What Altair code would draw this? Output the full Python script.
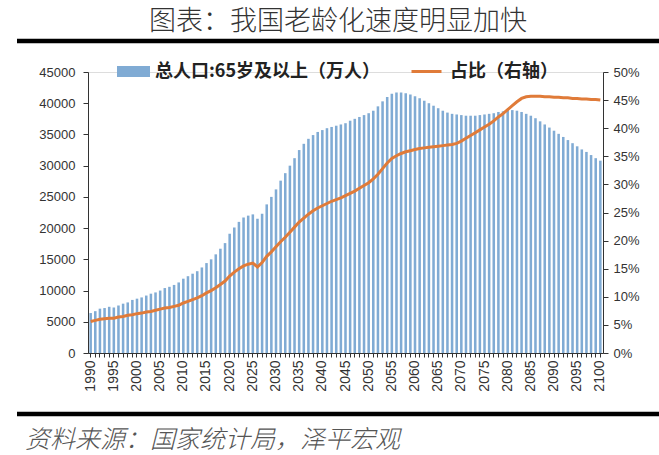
import altair as alt
import pandas as pd

years = list(range(1990, 2101))

pop_65 = [
    6400, 6700, 7100, 7200, 7400, 7300, 7600, 7900, 8100, 8500,
    8700, 8900, 9200, 9500, 9700, 10000, 10400, 10600, 10900, 11300,
    11900, 12300, 12700, 13100, 13700, 14400, 15000, 15800, 16700, 17600,
    19100, 20100, 21000, 21700, 22000, 22200, 21500, 22300, 23800, 25000,
    26200, 27600, 28800, 30000, 31200, 32500, 33500, 34300, 34900, 35400,
    35700, 36000, 36200, 36400, 36600, 36800, 37200, 37500, 37800, 38100,
    38400, 38800, 39500, 40300, 41000, 41500, 41700, 41700, 41600, 41400,
    41100, 40800, 40400, 40000, 39600, 39200, 38800, 38500, 38300, 38200,
    38100, 38000, 38000, 38000, 38100, 38200, 38300, 38400, 38600, 38700,
    38900, 38900, 38800, 38600, 38300, 38000, 37600, 37100, 36600, 36100,
    35600, 35100, 34600, 34100, 33600, 33100, 32600, 32200, 31700, 31200,
    30800,
]

share_pct = [
    5.6, 5.8, 6.0, 6.1, 6.2, 6.2, 6.4, 6.5, 6.7, 6.8,
    7.0, 7.1, 7.3, 7.4, 7.6, 7.8, 8.0, 8.1, 8.3, 8.5,
    8.9, 9.2, 9.5, 9.8, 10.2, 10.7, 11.1, 11.6, 12.2, 12.8,
    13.7, 14.4, 15.0, 15.5, 15.8, 16.0, 15.3, 16.1, 17.2, 18.0,
    18.9, 19.8, 20.6, 21.5, 22.4, 23.3, 24.0, 24.7, 25.3, 25.8,
    26.2, 26.6, 27.0, 27.3, 27.6, 28.0, 28.4, 28.8, 29.3, 29.8,
    30.3, 31.0, 31.8, 32.8, 33.8, 34.6, 35.1, 35.5, 35.8, 36.0,
    36.2, 36.4, 36.5, 36.6, 36.7, 36.8, 36.9, 37.0, 37.1, 37.3,
    37.7, 38.2, 38.7, 39.2, 39.7, 40.2, 40.7, 41.3, 42.0, 42.6,
    43.3, 44.0, 44.7, 45.3, 45.6, 45.7, 45.7, 45.7, 45.6, 45.6,
    45.5, 45.5, 45.4, 45.4, 45.3, 45.3, 45.2, 45.2, 45.1, 45.1,
    45.0,
]

bar_label = "总人口:65岁及以上（万人）"
line_label = "占比（右轴）"
title_text = "图表：我国老龄化速度明显加快"
source_text = "资料来源：国家统计局，泽平宏观"

df = pd.DataFrame({
    "year": years,
    "pop": pop_65,
    "share": [v / 100 for v in share_pct],
    "b": bar_label,
    "s": line_label,
})

W, H = 515, 281
PL, PT = 88, 72

xenc = alt.X(
    "year:O",
    scale=alt.Scale(paddingInner=0.45, paddingOuter=0.3),
    axis=alt.Axis(
        title=None,
        labelExpr="datum.value % 5 == 0 ? datum.label : ''",
        labelOverlap=False,
        labelAngle=-90,
        labelFont="Liberation Sans",
        labelFontSize=14,
        labelColor="#333333",
        labelPadding=3,
        tickSize=4,
        tickColor="#333333",
        domainColor="#333333",
    ),
)

bars = alt.Chart(df).mark_bar(opacity=1).encode(
    x=xenc,
    y=alt.Y(
        "pop:Q",
        scale=alt.Scale(domain=[0, 45000], nice=False),
        axis=alt.Axis(
            title=None,
            values=list(range(0, 45001, 5000)),
            format="d",
            labelFont="Liberation Sans",
            labelFontSize=13,
            labelColor="#333333",
            labelPadding=8,
            tickSize=5,
            tickColor="#333333",
            domainColor="#333333",
            grid=False,
        ),
    ),
    color=alt.Color(
        "b:N",
        scale=alt.Scale(domain=[bar_label], range=["#80abd4"]),
        legend=alt.Legend(
            title=None,
            orient="none",
            legendX=29,
            legendY=-17,
            padding=0,
            symbolType="M-1,-0.34L1,-0.34L1,0.34L-1,0.34Z",
            symbolSize=1089,
            symbolStrokeWidth=0,
            symbolOpacity=1,
            labelFont="Noto Sans CJK SC",
            labelFontWeight="bold",
            labelFontSize=18,
            labelColor="#222222",
            labelOffset=5,
            labelLimit=400,
        ),
    ),
)

line = alt.Chart(df).mark_line(strokeWidth=3).encode(
    x=alt.X("year:O"),
    y=alt.Y(
        "share:Q",
        scale=alt.Scale(domain=[0, 0.5], nice=False),
        axis=alt.Axis(
            title=None,
            orient="right",
            values=[i / 100 for i in range(0, 51, 5)],
            format=".0%",
            labelFont="Liberation Sans",
            labelFontSize=13,
            labelColor="#333333",
            labelPadding=5,
            tickSize=5,
            tickColor="#333333",
            domainColor="#333333",
            grid=False,
        ),
    ),
    stroke=alt.Stroke(
        "s:N",
        scale=alt.Scale(domain=[line_label], range=["#e07b39"]),
        legend=alt.Legend(
            title=None,
            orient="none",
            legendX=322,
            legendY=-17,
            padding=0,
            symbolType="stroke",
            symbolSize=900,
            symbolStrokeWidth=3,
            labelFont="Noto Sans CJK SC",
            labelFontWeight="bold",
            labelFontSize=18,
            labelColor="#222222",
            labelOffset=7,
            labelLimit=300,
        ),
    ),
)

plot = alt.layer(bars, line).resolve_scale(y="independent")

deco = pd.DataFrame({"k": [0]})
rules = alt.Chart(deco).mark_rule(color="#000000", strokeWidth=4.5).encode(
    x=alt.value(17 - PL), x2=alt.value(659 - PL), y=alt.value(41 - PT)
)
rules2 = alt.Chart(deco).mark_rule(color="#000000", strokeWidth=4.5).encode(
    x=alt.value(17 - PL), x2=alt.value(659 - PL), y=alt.value(414 - PT)
)
title = alt.Chart(pd.DataFrame({"t": [title_text]})).mark_text(
    font="Noto Sans CJK SC", fontSize=27, fontWeight=300, color="#333333",
    align="center", baseline="middle"
).encode(text="t:N", x=alt.value(338 - PL), y=alt.value(22 - PT))
source = alt.Chart(pd.DataFrame({"t": [source_text]})).mark_text(
    font="Noto Sans CJK SC", fontSize=25, fontWeight=300, fontStyle="italic", color="#555555",
    align="left", baseline="middle"
).encode(text="t:N", x=alt.value(25 - PL), y=alt.value(440 - PT))

chart = alt.layer(plot, rules, rules2, title, source).properties(
    width=W,
    height=H,
    padding={"left": PL, "top": PT, "right": 659 - PL - W, "bottom": 455 - PT - H},
    autosize=alt.AutoSizeParams(type="none"),
).configure_view(stroke=None).configure(background="white")

chart.save("out.html", embed_options={"renderer": "svg", "actions": False})
